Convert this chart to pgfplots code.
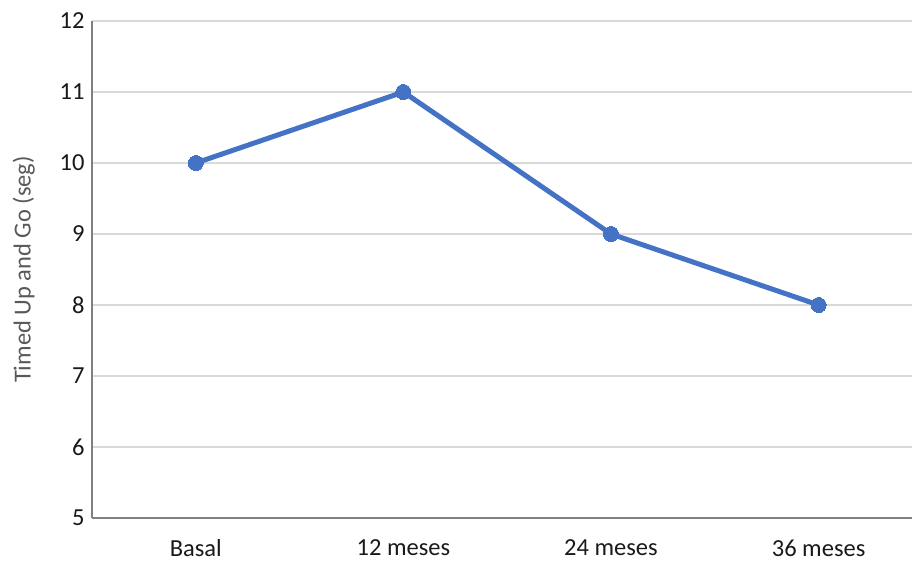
\documentclass[border=0pt]{standalone}
\usepackage{fontspec}
\setmainfont{Carlito}
\usepackage{pgfplots}
\pgfplotsset{compat=1.18}
\definecolor{lineblue}{HTML}{4472C4}
\definecolor{gridgray}{HTML}{D9D9D9}
\definecolor{axisgray}{HTML}{808080}
\definecolor{labelgray}{HTML}{595959}
\begin{document}
\begin{tikzpicture}
\begin{axis}[
  at={(92pt,43pt)},
  scale only axis,
  width=820pt, height=497pt,
  xmin=-0.5, xmax=3.45,
  ymin=5, ymax=12,
  ytick={5,6,7,8,9,10,11,12},
  xtick={0,1,2,3},
  xticklabels={Basal,12 meses,24 meses,36 meses},
  ymajorgrids,
  grid style={color=gridgray, line width=1.2pt},
  axis x line*=bottom,
  axis y line*=left,
  axis line style={color=axisgray, line width=1.3pt, -},
  major tick length=0pt,
  font=\fontsize{24.5}{29}\selectfont,
  /pgf/number format/assume math mode=true,
  yticklabel style={text=black!90, xshift=-4pt},
  xticklabel style={text=black!90, yshift=-18pt},
  ylabel={Timed Up and Go (seg)},
  ylabel style={text=labelgray, yshift=18pt},
  clip=false,
]
\addplot[color=lineblue, line width=5pt, mark=*, mark size=7.5pt,
  mark options={fill=lineblue, draw=lineblue, line width=0pt}]
  coordinates {(0,10) (1,11) (2,9) (3,8)};
\end{axis}
\pgfresetboundingbox
\path (0,0) rectangle (912pt,561pt);
\end{tikzpicture}
\end{document}
